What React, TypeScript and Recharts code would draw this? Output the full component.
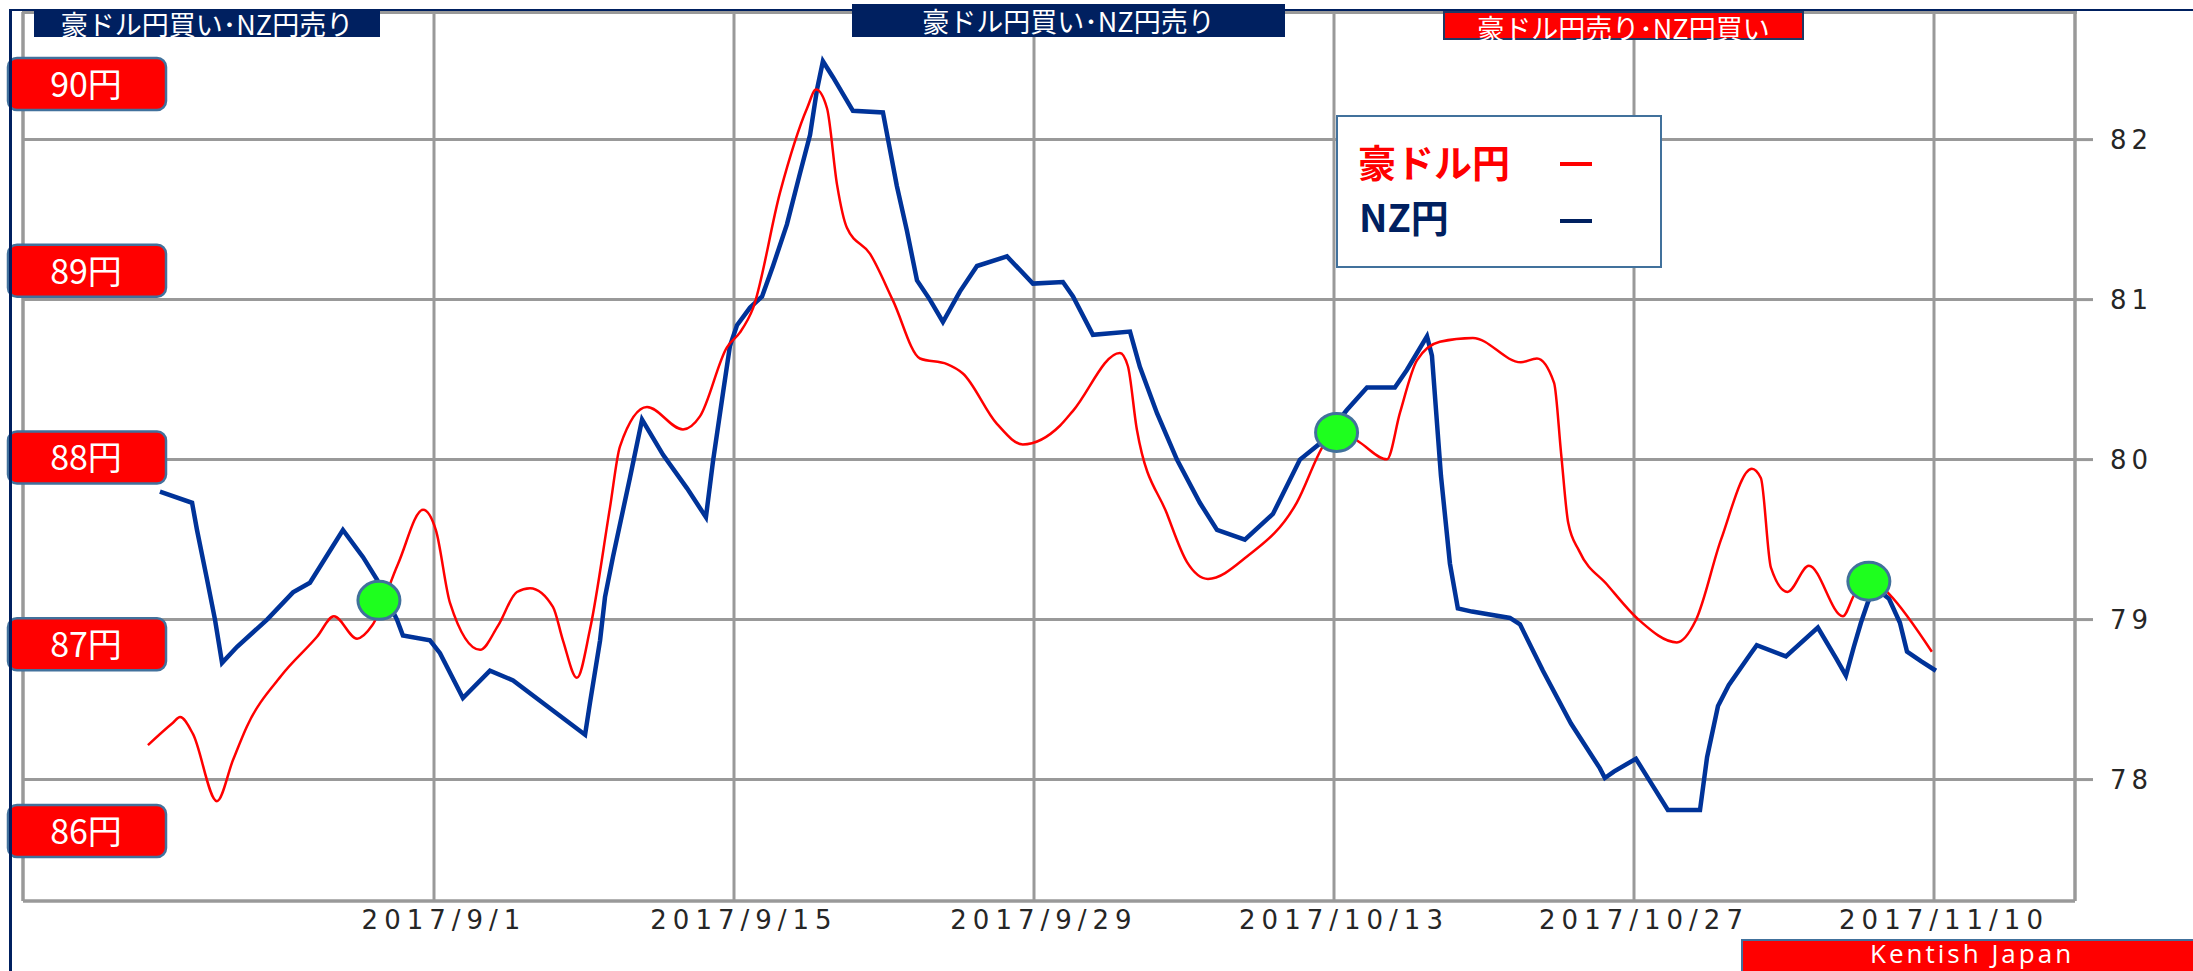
import { ComposedChart, Line, XAxis, YAxis, CartesianGrid, ReferenceDot, Legend } from 'recharts';

const WIDTH = 2193;
const HEIGHT = 971;

// x values are days counted from 2017/9/1
const xTicks = [0, 14, 28, 42, 56, 70];
const xTickLabels = ['2017/9/1', '2017/9/15', '2017/9/29', '2017/10/13', '2017/10/27', '2017/11/10'];

const nzTicks = [78, 79, 80, 81, 82];
const audTicks = [86, 87, 88, 89, 90];

// NZ円 (right axis)
const nzDays = [
  -12.79, -11.29, -11.06, -10.59, -10.22, -9.89, -9.19, -7.79, -6.58, -5.79, -4.25, -3.31, -2.66, -1.73, -1.45,
  -0.19, 0.28, 1.35, 2.61, 3.69, 5.27, 7.05, 7.28, 7.75, 7.98, 8.35, 9.15, 9.71, 10.69, 11.81, 12.69, 13.02,
  13.49, 13.81, 14.14, 14.75, 15.31, 15.82, 16.47, 17.08, 17.55, 17.87, 18.15, 18.62, 19.55, 20.95, 21.19,
  21.6, 22.07, 22.54, 23.14, 23.75, 24.54, 25.34, 26.74, 27.95, 29.35, 29.82, 30.75, 32.48, 32.94, 33.74,
  34.67, 35.74, 36.54, 37.84, 39.15, 40.41, 41.34, 42.6, 43.54, 44.84, 45.4, 46.34, 46.57, 46.99, 47.41,
  47.78, 48.44, 50.21, 50.68, 51.75, 53.06, 54.41, 54.64, 55.06, 56.09, 56.74, 57.58, 59.08, 59.41, 59.92,
  60.42, 61.41, 61.73, 63.09, 64.58, 65.42, 65.89, 66.26, 66.59, 66.92, 67.24, 67.9, 68.41, 68.74, 69.39, 70.09,
];
const nzValues = [
  79.8, 79.73, 79.56, 79.25, 79.0, 78.73, 78.83, 79.0, 79.17, 79.23, 79.56, 79.39, 79.25, 79.0, 78.9,
  78.87, 78.79, 78.51, 78.68, 78.62, 78.46, 78.28, 78.48, 78.87, 79.14, 79.39, 79.89, 80.25, 80.03, 79.82, 79.64, 79.99,
  80.42, 80.71, 80.84, 80.95, 81.02, 81.21, 81.47, 81.79, 82.03, 82.31, 82.49, 82.39, 82.18, 82.17, 82.0,
  81.71, 81.43, 81.12, 81.0, 80.86, 81.05, 81.21, 81.27, 81.1, 81.11, 81.02, 80.78, 80.8, 80.58, 80.29,
  80.0, 79.73, 79.56, 79.5, 79.66, 80.0, 80.1, 80.31, 80.45, 80.45, 80.56, 80.77, 80.65, 79.9, 79.35,
  79.07, 79.05, 79.01, 78.97, 78.68, 78.35, 78.07, 78.01, 78.05, 78.13, 77.99, 77.81, 77.81, 78.14, 78.46,
  78.59, 78.78, 78.84, 78.77, 78.95, 78.76, 78.65, 78.83, 78.98, 79.11, 79.2, 79.13, 78.98, 78.8, 78.74, 78.68,
];

// 豪ドル円 (left axis)
const audDays = [
  -13.35, -12.18, -11.85, -11.25, -10.13, -9.38, -8.73, -7.14, -5.46, -4.67, -3.59, -2.89, -1.68, -0.51,
  0.09, 0.75, 2.15, 2.99, 3.87, 4.48, 5.55, 6.02, 6.67, 7.28, 8.21, 8.68, 9.94, 11.62, 12.41, 13.67, 14.28,
  14.89, 16.15, 17.41, 17.83, 18.34, 18.81, 19.27, 20.35, 21.42, 22.68, 23.94, 24.68, 26.27, 27.48, 29.21,
  29.82, 32.01, 32.38, 32.8, 34.2, 35.14, 36.12, 37.94, 40.27, 41.48, 42.14, 43.21, 44.47, 45.08, 45.87,
  46.94, 48.48, 50.72, 51.47, 52.27, 52.6, 52.93, 53.44, 54.74, 56.23, 58.0, 58.89, 60.06, 61.5, 61.92,
  62.39, 63.16, 64.16, 65.75, 66.26, 67.01, 67.9, 69.9,
];
const audValues = [
  86.46, 86.58, 86.61, 86.52, 86.16, 86.38, 86.56, 86.83, 87.04, 87.15, 87.03, 87.1, 87.43, 87.72,
  87.61, 87.22, 86.97, 87.1, 87.28, 87.3, 87.2, 87.02, 86.82, 87.08, 87.73, 88.06, 88.27, 88.15, 88.22, 88.59, 88.67,
  88.8, 89.42, 89.87, 89.97, 89.87, 89.46, 89.23, 89.09, 88.84, 88.53, 88.5, 88.45, 88.18, 88.07, 88.17,
  88.25, 88.56, 88.49, 88.15, 87.7, 87.44, 87.35, 87.47, 87.76, 88.06, 88.16, 88.08, 87.99, 88.24, 88.52,
  88.62, 88.64, 88.51, 88.53, 88.4, 88.02, 87.65, 87.5, 87.32, 87.13, 87.01, 87.13, 87.56, 87.94, 87.89,
  87.41, 87.28, 87.42, 87.15, 87.26, 87.36, 87.27, 86.96,
];

// signal markers (placed on the NZ円 scale)
const signalDays = [-2.57, 42.12, 66.96];
const signalValues = [79.12, 80.17, 79.24];

const nzData = nzDays.map((d, i) => ({ d, v: nzValues[i] }));
const audData = audDays.map((d, i) => ({ d, v: audValues[i] }));

const JP = '"Noto Sans CJK JP", "Noto Sans", sans-serif';
const TICK_FONT = '"DejaVu Sans", sans-serif';
const GRID = '#999999';
const NAVY = '#002060';

function YenTick({ y, payload }: any) {
  return (
    <g>
      <rect x={8} y={y - 26} width={158} height={52} rx={9} fill="#FF0000" stroke="#41719C" strokeWidth={2.5} />
      <text x={86} y={y + 13} textAnchor="middle" fill="#fff" fontSize={34} fontFamily={JP}>
        {`${payload.value}円`}
      </text>
    </g>
  );
}

function NzTick({ y, payload }: any) {
  return (
    <text x={2110} y={y + 9.5} fill="#262626" fontSize={26} letterSpacing={5} fontFamily={TICK_FONT}>
      {payload.value}
    </text>
  );
}

function DateTick({ x, payload }: any) {
  const label = xTickLabels[xTicks.indexOf(payload.value)];
  return (
    <text x={x + 10} y={929} textAnchor="middle" fill="#262626" fontSize={26} letterSpacing={6} fontFamily={TICK_FONT}>
      {label}
    </text>
  );
}

function LegendBox() {
  return (
    <div
      style={{
        boxSizing: 'border-box',
        width: 326,
        height: 153,
        border: '2px solid #41719C',
        background: '#fff',
        position: 'relative',
        fontFamily: JP,
        fontWeight: 700,
        fontSize: 38,
        lineHeight: '40px',
      }}
    >
      <span style={{ position: 'absolute', left: 20, top: 24, color: '#FF0000' }}>豪ドル円</span>
      <span style={{ position: 'absolute', left: 222, top: 45, width: 32, height: 4, background: '#FF0000' }} />
      <span style={{ position: 'absolute', left: 21, top: 79, color: NAVY }}>NZ円</span>
      <span style={{ position: 'absolute', left: 222, top: 102, width: 32, height: 4, background: NAVY }} />
    </div>
  );
}

const banner = (left: number, top: number, width: number, height: number, bg: string, text: string, extra = {}) => (
  <div
    style={{
      position: 'absolute',
      left,
      top,
      width,
      height,
      background: bg,
      color: '#fff',
      fontFamily: JP,
      fontSize: 27,
      lineHeight: `${height}px`,
      textAlign: 'center',
      whiteSpace: 'nowrap',
      boxSizing: 'border-box',
      ...extra,
    }}
  >
    {text}
  </div>
);

export default function App() {
  return (
    <div style={{ position: 'absolute', left: 0, top: 0, width: WIDTH, height: HEIGHT, overflow: 'hidden', background: '#fff' }}>
      <ComposedChart width={WIDTH} height={HEIGHT} margin={{ top: 12, right: 0, bottom: 0, left: 0 }}>
        <CartesianGrid yAxisId="nz" stroke={GRID} strokeWidth={3} />
        <XAxis
          type="number"
          dataKey="d"
          domain={[-19.18, 76.58]}
          ticks={xTicks}
          allowDataOverflow
          height={70}
          axisLine={{ stroke: GRID, strokeWidth: 3 }}
          tickLine={false}
          tick={DateTick}
        />
        <YAxis
          yAxisId="aud"
          orientation="left"
          width={23}
          domain={[85.6252, 90.3855]}
          ticks={audTicks}
          allowDataOverflow
          axisLine={{ stroke: GRID, strokeWidth: 3 }}
          tickLine={false}
          tick={YenTick}
        />
        <YAxis
          yAxisId="nz"
          orientation="right"
          width={118}
          domain={[77.241, 82.7975]}
          ticks={nzTicks}
          allowDataOverflow
          axisLine={{ stroke: GRID, strokeWidth: 3 }}
          tickLine={{ stroke: GRID, strokeWidth: 3 }}
          tickSize={18}
          tick={NzTick}
        />
        <Legend
          layout="vertical"
          align="center"
          verticalAlign="middle"
          wrapperStyle={{ position: 'absolute', left: 1336, top: 115, width: 326, height: 153, margin: 0, padding: 0 }}
          content={LegendBox}
        />
        <Line
          yAxisId="nz"
          data={nzData}
          dataKey="v"
          type="linear"
          stroke="#003399"
          strokeWidth={4.5}
          dot={false}
          activeDot={false}
          isAnimationActive={false}
        />
        <Line
          yAxisId="aud"
          data={audData}
          dataKey="v"
          type="monotone"
          stroke="#FF0000"
          strokeWidth={2.5}
          dot={false}
          activeDot={false}
          isAnimationActive={false}
        />
        {signalDays.map((d, i) => (
          <ReferenceDot
            key={`sig-${i}`}
            yAxisId="nz"
            x={d}
            y={signalValues[i]}
            r={20}
            ifOverflow="visible"
            shape={(p: any) => (
              <ellipse cx={p.cx} cy={p.cy} rx={21} ry={19} fill="#1EFF1E" stroke="#41719C" strokeWidth={3} />
            )}
          />
        ))}
      </ComposedChart>

      {/* frame lines */}
      <div style={{ position: 'absolute', left: 22, top: 10.5, width: 2055, height: 3, background: GRID }} />
      <div style={{ position: 'absolute', left: 9, top: 8.5, width: WIDTH - 9, height: 2.5, background: NAVY }} />
      <div style={{ position: 'absolute', left: 9, top: 8.5, width: 2.5, height: HEIGHT, background: NAVY }} />

      {/* signal banners */}
      {banner(34, 11, 346, 26, NAVY, '豪ドル円買い･NZ円売り')}
      {banner(852, 4, 433, 33, NAVY, '豪ドル円買い･NZ円売り')}
      {banner(1443, 11, 361, 29, '#FF0000', '豪ドル円売り･NZ円買い', { border: '2px solid #1F3864' })}

      {/* credit */}
      <div
        style={{
          position: 'absolute',
          left: 1741,
          top: 939,
          width: WIDTH - 1741 + 4,
          height: 40,
          background: '#FF0000',
          borderTop: '2px solid #41719C',
          borderLeft: '2px solid #41719C',
          boxSizing: 'border-box',
        }}
      />
      <div
        style={{
          position: 'absolute',
          left: 1870,
          top: 935.5,
          color: '#fff',
          fontFamily: '"Open Sans", "Noto Sans", sans-serif',
          fontSize: 26,
          lineHeight: 1.362,
          letterSpacing: 3,
          whiteSpace: 'nowrap',
        }}
      >
        Kentish Japan
      </div>
    </div>
  );
}
